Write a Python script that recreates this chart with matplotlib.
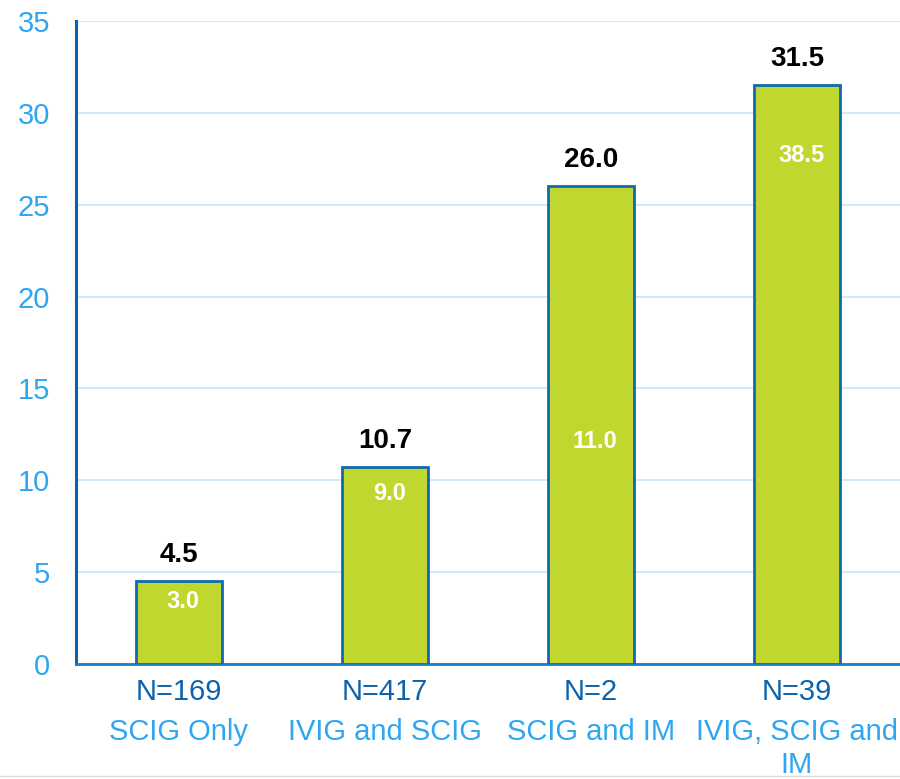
import numpy as np
import matplotlib.pyplot as plt
plt.switch_backend('agg')
from matplotlib.transforms import blended_transform_factory

plt.rcParams['font.family'] = ['Liberation Sans', 'DejaVu Sans']

# data
groups = ["SCIG Only", "IVIG and SCIG", "SCIG and IM", "IVIG, SCIG and\nIM"]
n_labels = ["N=169", "N=417", "N=2", "N=39"]
means = [4.5, 10.7, 26.0, 31.5]
inner_vals = [3.0, 9.0, 11.0, 38.5]
inner_pos = [3.4, 9.3, 12.1, 27.7]   # where the inner labels sit

light_blue = '#2FA6F2'
dark_blue = '#0B63AD'
green = '#C0D72F'

fig = plt.figure(figsize=(9, 7.79), dpi=100)
ax = fig.add_axes([0.0844, 0.1476, 0.9156, 0.8254])

x = np.arange(len(groups))
ax.bar(x, means, width=0.42, color=green, edgecolor='#0E6BB0', linewidth=2, zorder=3)

for i in x:
    ax.text(i, means[i] + 1.42, '%.1f' % means[i], ha='center', va='center',
            fontsize=20, fontweight='bold', color='black')
    ax.text(i + 0.02, inner_pos[i], '%.1f' % inner_vals[i], ha='center', va='center',
            fontsize=17, fontweight='bold', color='white', zorder=4)

ax.set_xlim(-0.5, 3.5)
ax.set_ylim(0, 35)
ax.set_yticks(range(0, 36, 5))
ax.yaxis.grid(True, color='#CDE8FA', linewidth=1.3, zorder=0)
ax.set_axisbelow(True)
ax.tick_params(axis='y', length=0, pad=18.5, labelsize=21, labelcolor=light_blue)
ax.set_xticks([])

for s in ['top', 'right']:
    ax.spines[s].set_visible(False)
ax.spines['left'].set_color('#0B63AD')
ax.spines['left'].set_linewidth(2.2)
ax.spines['bottom'].set_color('#1F7AC0')
ax.spines['bottom'].set_linewidth(2)

trans = blended_transform_factory(ax.transData, fig.transFigure)
for i in x:
    ax.text(i, 1 - 692 / 779, n_labels[i], transform=trans, ha='center', va='center',
            fontsize=21, color=dark_blue)
    for k, line in enumerate(groups[i].split('\n')):
        ax.text(i, 1 - (732 + 33 * k) / 779, line, transform=trans, ha='center',
                va='center', fontsize=21, color=light_blue)

fig.add_artist(plt.Line2D([0, 1], [1 - 776 / 779] * 2, color='#DDDDDD', linewidth=1))

plt.savefig('out.png', dpi=100)
